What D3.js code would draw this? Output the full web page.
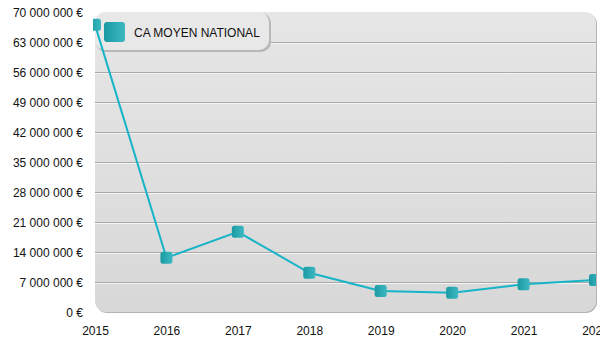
<!DOCTYPE html>
<html>
<head>
<meta charset="utf-8">
<script src="https://cdn.jsdelivr.net/npm/d3@7/dist/d3.min.js"></script>
<style>
  html, body { margin: 0; padding: 0; background: #ffffff; }
  svg { display: block; font-family: "Liberation Sans", Arial, sans-serif; }
</style>
</head>
<body>
<svg id="chart" width="600" height="350"></svg>
<script>
// Average national turnover per year
const years = ["2015", "2016", "2017", "2018", "2019", "2020", "2021", "2022"];
const caMoyen = [67000000, 12650000, 18700000, 9150000, 4900000, 4500000, 6450000, 7450000];
const yTicks = [0, 7000000, 14000000, 21000000, 28000000, 35000000, 42000000, 49000000, 56000000, 63000000, 70000000];
const seriesName = "CA MOYEN NATIONAL";

const svg = d3.select("#chart");
const plotL = 95, plotR = 596, plotT = 12, plotB = 312;

const x = d3.scalePoint().domain(years).range([plotL, 595]);
const y = d3.scaleLinear().domain([0, 70000000]).range([plotB, plotT]);

const fmt = v => d3.format(",")(v).replace(/,/g, " ") + " €";

const defs = svg.append("defs");
const bg = defs.append("linearGradient").attr("id", "bg").attr("x1", 0).attr("y1", 0).attr("x2", 0).attr("y2", 1);
bg.append("stop").attr("offset", "0%").attr("stop-color", "#e6e6e6");
bg.append("stop").attr("offset", "100%").attr("stop-color", "#d8d8d8");
const mk = defs.append("linearGradient").attr("id", "mk").attr("x1", 0).attr("y1", 0).attr("x2", 1).attr("y2", 0);
mk.append("stop").attr("offset", "0%").attr("stop-color", "#1a9aa4");
mk.append("stop").attr("offset", "100%").attr("stop-color", "#3db8c1");
defs.append("clipPath").attr("id", "clip")
  .append("rect").attr("x", 93).attr("y", 0).attr("width", plotR - 93).attr("height", 350);

// Plot panel with soft shadow
svg.append("rect").attr("x", plotL + 1).attr("y", plotT + 1).attr("width", plotR - plotL).attr("height", plotB - plotT)
  .attr("rx", 11).attr("fill", "#b4b4b4");
svg.append("rect").attr("x", plotL).attr("y", plotT).attr("width", plotR - plotL).attr("height", plotB - plotT)
  .attr("rx", 11).attr("fill", "url(#bg)");

// Grid lines
const grid = svg.append("g");
yTicks.filter(t => t > 0 && t < 70000000).forEach(t => {
  const yy = Math.round(y(t));
  grid.append("line").attr("x1", plotL).attr("x2", plotR).attr("y1", yy + 0.5).attr("y2", yy + 0.5)
    .attr("stroke", "#a9a9a9").attr("stroke-width", 1);
  grid.append("line").attr("x1", plotL).attr("x2", plotR).attr("y1", yy + 1.5).attr("y2", yy + 1.5)
    .attr("stroke", "#f4f4f4").attr("stroke-width", 1);
});

// Y axis labels
const yAxis = d3.axisLeft(y).tickValues(yTicks).tickFormat(fmt).tickSize(0).tickPadding(0);
const ga = svg.append("g").attr("transform", "translate(83,1)").call(yAxis);
ga.select(".domain").remove();
ga.selectAll("text").attr("font-size", 12).attr("fill", "#111").attr("font-family", "Liberation Sans, Arial, sans-serif");

// X axis labels
const xAxis = d3.axisBottom(x).tickSize(0).tickPadding(0);
const gx = svg.append("g").attr("transform", "translate(0,326)").call(xAxis);
gx.select(".domain").remove();
gx.selectAll("text").attr("font-size", 12).attr("fill", "#111").attr("font-family", "Liberation Sans, Arial, sans-serif");

// Legend
const lg = svg.append("g");
lg.append("rect").attr("x", 96).attr("y", 13).attr("width", 175).attr("height", 39).attr("rx", 10).attr("fill", "#b8b8b8");
lg.append("rect").attr("x", 95).attr("y", 12).attr("width", 174).attr("height", 38).attr("rx", 10).attr("fill", "#e8e8e8");
lg.append("rect").attr("x", 104).attr("y", 22).attr("width", 21).attr("height", 20).attr("rx", 3).attr("fill", "url(#mk)");
lg.append("text").attr("x", 134).attr("y", 37).attr("font-size", 12).attr("fill", "#111").text(seriesName);

// Series line and markers
const series = svg.append("g").attr("clip-path", "url(#clip)");
const data = years.map((yr, i) => ({ yr, v: caMoyen[i] }));
series.append("path").datum(data)
  .attr("d", d3.line().x(d => x(d.yr)).y(d => y(d.v)))
  .attr("fill", "none").attr("stroke", "#17b4c7").attr("stroke-width", 2);
series.selectAll("rect.pt").data(data).join("rect").attr("class", "pt")
  .attr("x", d => x(d.yr) - 6).attr("y", d => y(d.v) - 6)
  .attr("width", 12).attr("height", 12).attr("rx", 2.5)
  .attr("fill", "url(#mk)");
</script>
</body>
</html>
